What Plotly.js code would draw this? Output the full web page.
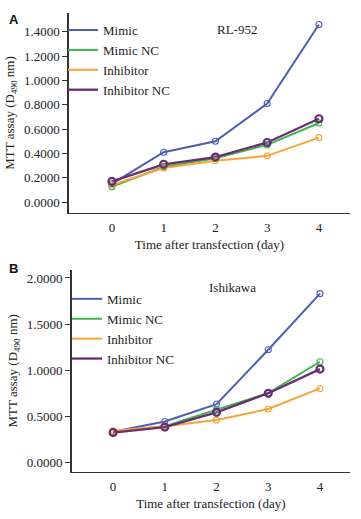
<!DOCTYPE html>
<html>
<head>
<meta charset="utf-8">
<script src="https://cdn.plot.ly/plotly-3.0.1.min.js"></script>
<style>html,body{margin:0;padding:0;background:#fff;}#chart{width:361px;height:519px;}</style>
</head>
<body>
<div id="chart"></div>
<script>
const days = [0, 1, 2, 3, 4];
const seriesNames = ["Mimic", "Mimic NC", "Inhibitor", "Inhibitor NC"];
const colors = ["#4b5fae", "#3fb54b", "#f6a33a", "#6a2b77"];

// Panel A: RL-952
const rlMimic = [0.15, 0.41, 0.50, 0.81, 1.46];
const rlMimicNC = [0.125, 0.29, 0.36, 0.47, 0.65];
const rlInhibitor = [0.14, 0.28, 0.34, 0.38, 0.53];
const rlInhibitorNC = [0.17, 0.31, 0.37, 0.49, 0.685];

// Panel B: Ishikawa
const ishMimic = [0.33, 0.44, 0.63, 1.22, 1.83];
const ishMimicNC = [0.33, 0.39, 0.57, 0.75, 1.09];
const ishInhibitor = [0.34, 0.39, 0.456, 0.576, 0.80];
const ishInhibitorNC = [0.32, 0.38, 0.54, 0.747, 1.01];

const yTicksA = [0, 0.2, 0.4, 0.6, 0.8, 1.0, 1.2, 1.4];
const yTicksB = [0, 0.5, 1.0, 1.5, 2.0];

const FONT = "'Liberation Serif', 'Times New Roman', Times, serif";

function lineTrace(y, i, xa, ya, lg) {
  return {
    x: days, y: y, name: seriesNames[i], type: "scatter", mode: "lines",
    xaxis: xa, yaxis: ya, legend: lg, legendgroup: lg + i,
    line: {color: colors[i], width: i === 3 ? 2.3 : 2}
  };
}
function markerTrace(y, i, xa, ya, lg) {
  return {
    x: days, y: y, name: seriesNames[i], type: "scatter", mode: "markers",
    xaxis: xa, yaxis: ya, legend: lg, legendgroup: lg + i, showlegend: false,
    marker: {symbol: "circle-open", size: i === 3 ? 7 : 6, color: colors[i], line: {width: i === 3 ? 2.2 : 1.1, color: colors[i]}}
  };
}

const dataA = [rlMimic, rlMimicNC, rlInhibitor, rlInhibitorNC];
const dataB = [ishMimic, ishMimicNC, ishInhibitor, ishInhibitorNC];
const traces = [];
dataA.forEach((d, i) => traces.push(lineTrace(d, i, "x", "y", "legend")));
dataA.forEach((d, i) => traces.push(markerTrace(d, i, "x", "y", "legend")));
dataB.forEach((d, i) => traces.push(lineTrace(d, i, "x2", "y2", "legend2")));
dataB.forEach((d, i) => traces.push(markerTrace(d, i, "x2", "y2", "legend2")));

const axisCommon = {
  showline: true, linecolor: "#333", linewidth: 1.5, showgrid: false, zeroline: false,
  tickfont: {family: FONT, size: 13, color: "#222"}
};
const yTitle = {text: "MTT assay (D<sub>490</sub> nm)", font: {family: FONT, size: 13, color: "#222"}, standoff: 6};
const xTitle = {text: "Time after transfection (day)", font: {family: FONT, size: 13, color: "#222"}, standoff: 6};

const legendCommon = {
  font: {family: FONT, size: 13, color: "#222"}, bgcolor: "rgba(0,0,0,0)",
  xanchor: "left", yanchor: "top", tracegroupgap: 0, itemwidth: 30
};

const layout = {
  width: 361, height: 519,
  margin: {l: 0, r: 0, t: 0, b: 0},
  paper_bgcolor: "#fff", plot_bgcolor: "#fff",
  font: {family: FONT, size: 13, color: "#222"},
  xaxis: Object.assign({}, axisCommon, {
    domain: [0.191, 0.9695], range: [-0.83, 4.6], tickvals: days, ticks: "", ticklabelstandoff: 2,
    anchor: "y", title: xTitle
  }),
  yaxis: Object.assign({}, axisCommon, {
    domain: [0.5896, 0.975], range: [-0.09, 1.555], tickvals: yTicksA, tickformat: ".4f",
    ticks: "outside", ticklen: 5, tickcolor: "#333", anchor: "x", title: yTitle
  }),
  xaxis2: Object.assign({}, axisCommon, {
    domain: [0.1986, 0.9695], range: [-0.80, 4.58], tickvals: days, ticks: "", ticklabelstandoff: 2,
    anchor: "y2", title: xTitle
  }),
  yaxis2: Object.assign({}, axisCommon, {
    domain: [0.0911, 0.4798], range: [-0.105, 2.087], tickvals: yTicksB, tickformat: ".4f",
    ticks: "outside", ticklen: 5, tickcolor: "#333", anchor: "x2", title: yTitle
  }),
  legend: Object.assign({}, legendCommon, {x: 0.1745, y: 0.971}),
  legend2: Object.assign({}, legendCommon, {x: 0.1856, y: 0.453}),
  annotations: [
    {text: "RL-952", xref: "paper", yref: "paper", x: 237/361, y: 1 - 30/519, xanchor: "center", yanchor: "middle", showarrow: false, font: {family: FONT, size: 13, color: "#222"}},
    {text: "Ishikawa", xref: "paper", yref: "paper", x: 232/361, y: 1 - 287/519, xanchor: "center", yanchor: "middle", showarrow: false, font: {family: FONT, size: 13, color: "#222"}},
    {text: "<b>A</b>", xref: "paper", yref: "paper", x: 14/361, y: 1 - 19/519, xanchor: "center", yanchor: "middle", showarrow: false, font: {family: "'Liberation Sans', Arial, sans-serif", size: 13, color: "#111"}},
    {text: "<b>B</b>", xref: "paper", yref: "paper", x: 14/361, y: 1 - 268/519, xanchor: "center", yanchor: "middle", showarrow: false, font: {family: "'Liberation Sans', Arial, sans-serif", size: 13, color: "#111"}}
  ],
  showlegend: true
};

Plotly.newPlot("chart", traces, layout, {displayModeBar: false, staticPlot: true});
</script>
</body>
</html>
